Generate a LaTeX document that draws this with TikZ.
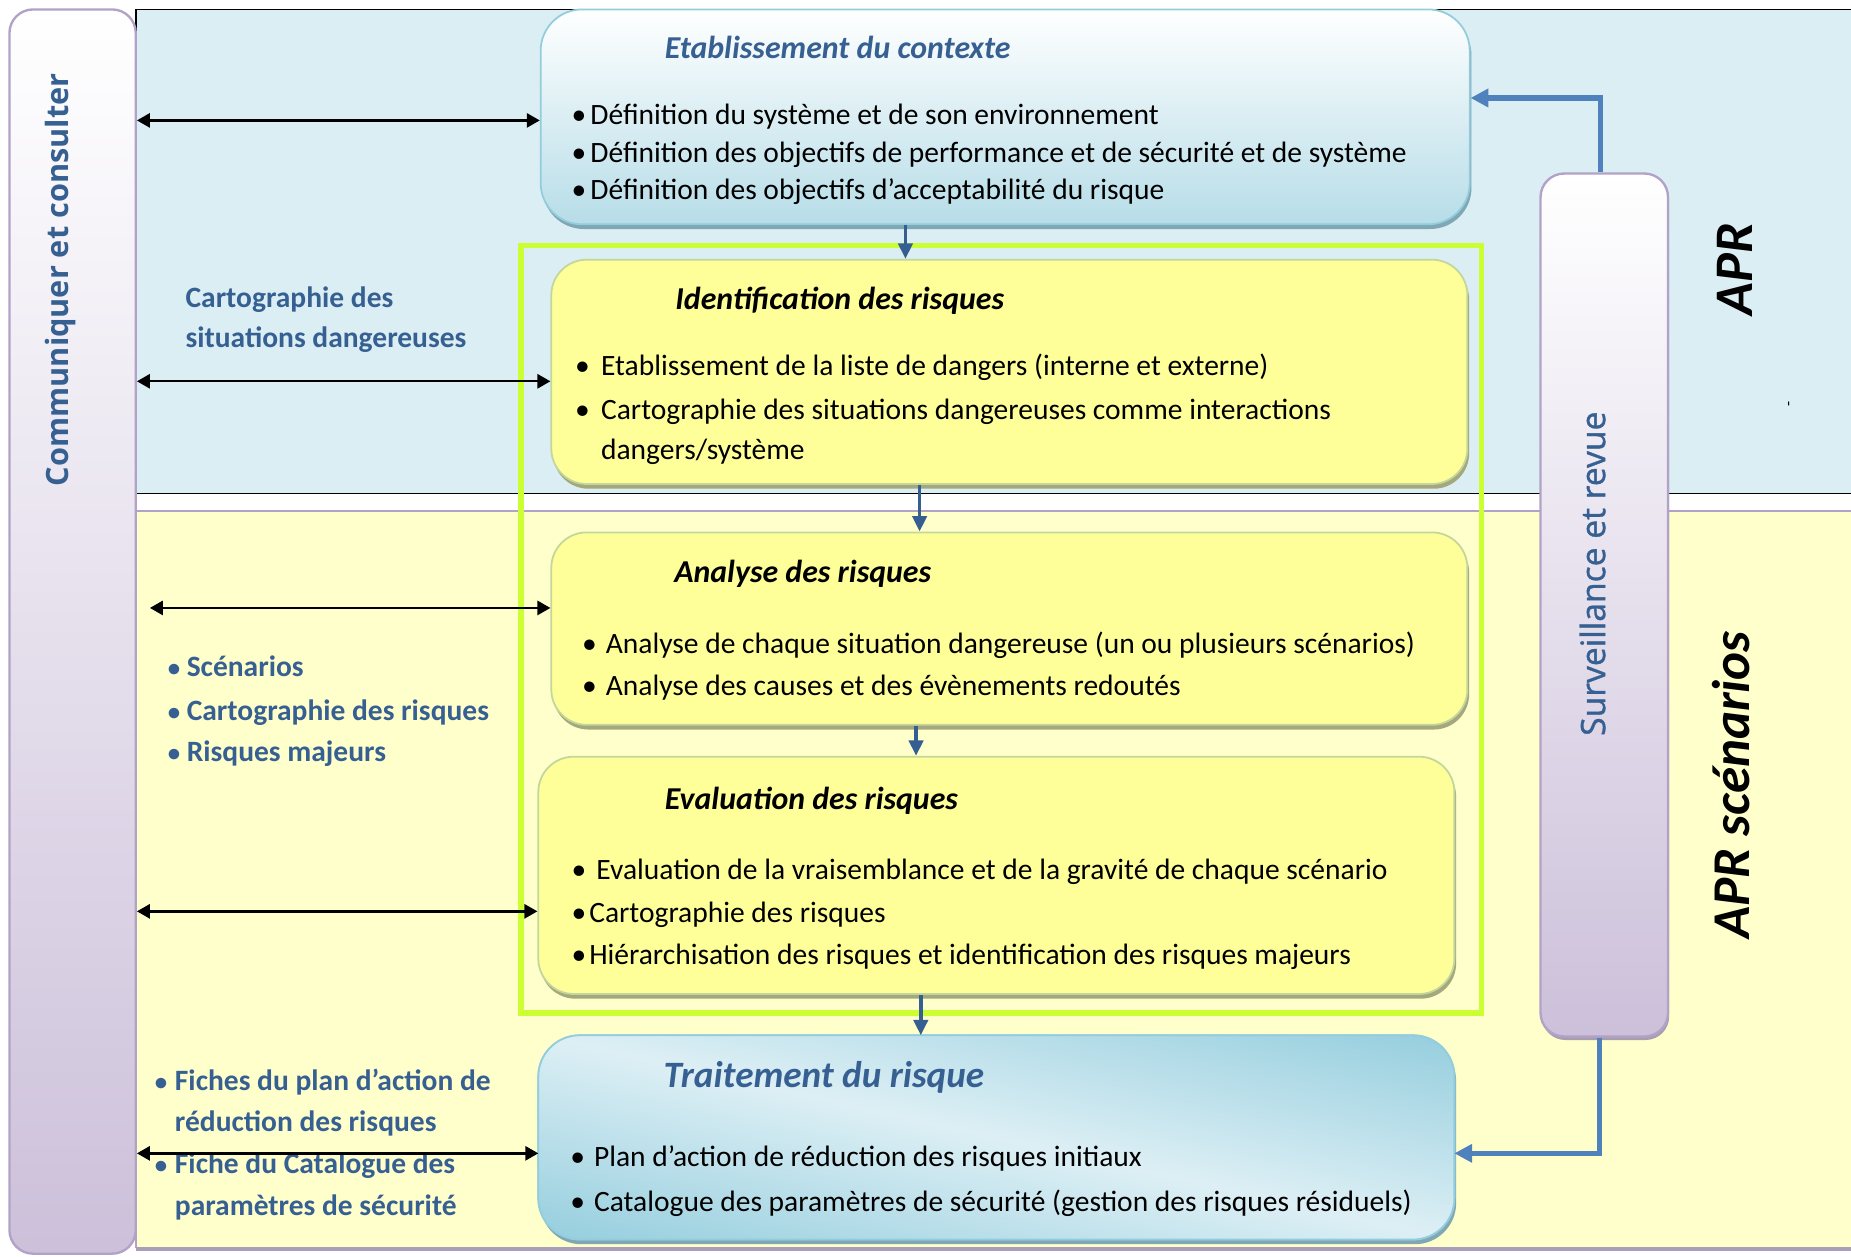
\documentclass[tikz,border=0pt]{standalone}
\usepackage{fontspec}
\setmainfont{Carlito}
\newfontfamily\sidefont{Open Sans}
\newfontfamily\sidesemi[FakeBold=1]{Open Sans}
\usetikzlibrary{shadows,arrows.meta}

\definecolor{bandblue}{HTML}{DBEEF4}
\definecolor{bandyellow}{HTML}{FFFFCC}
\definecolor{boxyellow}{HTML}{FFFF99}
\definecolor{yellowedge}{HTML}{C3D69B}
\definecolor{yellowshade}{HTML}{A4A87C}
\definecolor{ctxlow}{HTML}{B7DDE8}
\definecolor{ctxedge}{HTML}{93CDDD}
\definecolor{ctxshade}{HTML}{7FA7B4}
\definecolor{treatdark}{HTML}{93CDDD}
\definecolor{treatlight}{HTML}{DDEFF5}
\definecolor{lilac}{HTML}{CCC0DA}
\definecolor{lilacedge}{HTML}{B3A2C7}
\definecolor{lilacline}{HTML}{A99DBA}
\definecolor{lilacshade}{HTML}{A79FB0}
\definecolor{deepblue}{HTML}{376092}
\definecolor{feedblue}{HTML}{4F81BD}
\definecolor{limegreen}{HTML}{CCFF33}
\definecolor{stepblue}{HTML}{365F91}

\newcommand{\setfs}[1]{\fontsize{#1}{#1}\selectfont}

\tikzset{
  ctxbox/.style={draw=ctxedge, line width=1.5pt, rounded corners=35pt,
    top color=white, bottom color=ctxlow,
    drop shadow={shadow xshift=1.5pt, shadow yshift=-4pt, fill=ctxshade, opacity=1}},
  stagebox/.style={draw=yellowedge, line width=1.5pt, rounded corners=30pt, fill=boxyellow,
    drop shadow={shadow xshift=1.5pt, shadow yshift=-4pt, fill=yellowshade, opacity=1}},
  treatbox/.style={draw=ctxedge, line width=1.5pt, rounded corners=35pt, fill=treatdark, outer sep=0pt,
    drop shadow={shadow xshift=1.5pt, shadow yshift=-4pt, fill=ctxshade, opacity=1}},
  treatrim/.style={draw=ctxedge, line width=1.5pt, rounded corners=35pt},
  sidebar/.style={draw=lilacedge, line width=2pt, rounded corners=20pt,
    top color=white, bottom color=lilac},
  twoway/.style={line width=2pt, {Triangle[length=11pt,width=12pt]}-{Triangle[length=11pt,width=12pt]}},
  stepdown/.style={stepblue, line width=3pt, -{Triangle[length=13pt,width=12pt]}},
  feedback/.style={feedblue, line width=4.5pt, -{Triangle[length=15pt,width=15pt]}},
  bodyline/.style={anchor=mid west, inner sep=0pt, yshift=-6pt, font=\setfs{25}},
  headline/.style={anchor=mid west, inner sep=0pt, yshift=-6pt, font=\setfs{27}\bfseries\itshape},
  sidelabel/.style={anchor=mid west, inner sep=0pt, yshift=-5pt, text=deepblue, font=\setfs{25}\bfseries},
  sidedot/.style={anchor=mid west, inner sep=0pt, yshift=-5pt, text=deepblue, font=\setfs{21}\bfseries},
}

\begin{document}
\begin{tikzpicture}[x=1pt, y=-1pt]
\useasboundingbox (0,0) rectangle (1568,1064);

% the two phase bands
\fill[bandblue] (115,8) rectangle (1580,418);
\draw[black, line width=1.5pt] (1580,8) -- (115,8) -- (115,418) -- (1580,418);
\fill[bandyellow] (115,433) rectangle (1580,1057);
\draw[lilacedge, line width=1.5pt] (1580,433) -- (115,433) -- (115,1057);
\draw[lilacline, line width=4pt] (115,1058) -- (1580,1058);

% side bars
\node[sidebar, minimum width=107pt, minimum height=1054pt] (lb) at (61.5,535) {};
\node[sidebar, minimum width=108pt, minimum height=731pt,
  drop shadow={shadow xshift=1pt, shadow yshift=-3pt, fill=lilacshade, opacity=1}] (rb) at (1359,512.5) {};
\node[rotate=90, text=deepblue, font=\sidefont\bfseries\setfs{26}] (lbT) at (51,237) {Communiquer et consulter};
\node[rotate=90, text=deepblue, font=\sidesemi\setfs{28.5}] (rbT) at (1349,486) {Surveillance et revue};

% process boxes
\node[ctxbox, minimum width=787pt, minimum height=182pt] (ctx) at (851.5,99) {};
\draw[limegreen, line width=5pt] (441,208) rectangle (1255,858);
\node[stagebox, minimum width=776pt, minimum height=190pt] (ident) at (855,315) {};
\node[stagebox, minimum width=776pt, minimum height=163pt] (ana) at (855,532.5) {};
\node[stagebox, minimum width=776pt, minimum height=201pt] (eval) at (844,741.5) {};
\node[treatbox, minimum width=776pt, minimum height=173pt] (treat) at (844,963.5) {};
% diagonal sheen of the treatment box: light along one diagonal, darker in the other corners
\begin{scope}
  \clip[rounded corners=35pt] (treat.south west) rectangle (treat.north east);
  \begin{scope}[transform canvas={rotate around={-12.6:(treat.center)}}]
    \shade[top color=treatdark, bottom color=treatdark, middle color=treatlight]
      (344,790) rectangle (1344,1137);
  \end{scope}
\end{scope}
\draw[treatrim] (treat.south west) rectangle (treat.north east);

% Etablissement du contexte
\node[headline, text=deepblue] (ctxT) at (563,41) {Etablissement du contexte};
\node[bodyline] (c1b) at (484,97) {•};
\node[bodyline] (c1) at (500,97) {Définition du système et de son environnement};
\node[bodyline] (c2b) at (484,129) {•};
\node[bodyline] (c2) at (500,129) {Définition des objectifs de performance et de sécurité et de système};
\node[bodyline] (c3b) at (484,161) {•};
\node[bodyline] (c3) at (500,161) {Définition des objectifs d’acceptabilité du risque};

% Identification des risques
\node[headline] (identT) at (572,254) {Identification des risques};
\node[bodyline] (i1b) at (487,310) {•};
\node[bodyline] (i1) at (509,310) {Etablissement de la liste de dangers (interne et externe)};
\node[bodyline] (i2b) at (487,347) {•};
\node[bodyline] (i2) at (509,347) {Cartographie des situations dangereuses comme interactions};
\node[bodyline] (i3) at (509,381) {dangers/système};

% Analyse des risques
\node[headline] (anaT) at (571,485) {Analyse des risques};
\node[bodyline] (a1b) at (493,545) {•};
\node[bodyline] (a1) at (513,545) {Analyse de chaque situation dangereuse (un ou plusieurs scénarios)};
\node[bodyline] (a2b) at (493,581) {•};
\node[bodyline] (a2) at (513,581) {Analyse des causes et des évènements redoutés};

% Evaluation des risques
\node[headline] (evalT) at (563,677) {Evaluation des risques};
\node[bodyline] (e1b) at (484,737) {•};
\node[bodyline] (e1) at (505,737) {Evaluation de la vraisemblance et de la gravité de chaque scénario};
\node[bodyline] (e2b) at (484,773) {•};
\node[bodyline] (e2) at (499,773) {Cartographie des risques};
\node[bodyline] (e3b) at (484,809) {•};
\node[bodyline] (e3) at (499,809) {Hiérarchisation des risques et identification des risques majeurs};

% Traitement du risque
\node[headline, text=deepblue, font=\setfs{31.5}\bfseries\itshape] (treatT) at (562,913) {Traitement du risque};
\node[bodyline] (t1b) at (483,980) {•};
\node[bodyline] (t1) at (503,980) {Plan d’action de réduction des risques initiaux};
\node[bodyline] (t2b) at (483,1018) {•};
\node[bodyline] (t2) at (503,1018) {Catalogue des paramètres de sécurité (gestion des risques résiduels)};

% outputs exchanged with the stakeholders
\node[sidelabel] (m1) at (157,253) {Cartographie des};
\node[sidelabel] (m2) at (157,287) {situations dangereuses};
\node[sidedot] (s1b) at (142,566) {•};
\node[sidelabel] (s1) at (158,566) {Scénarios};
\node[sidedot] (s2b) at (142,603) {•};
\node[sidelabel] (s2) at (158,603) {Cartographie des risques};
\node[sidedot] (s3b) at (142,638) {•};
\node[sidelabel] (s3) at (158,638) {Risques majeurs};
\node[sidedot] (f1b) at (131,916) {•};
\node[sidelabel] (f1) at (148,916) {Fiches du plan d’action de};
\node[sidelabel] (f2) at (148,951) {réduction des risques};
\node[sidedot] (f3b) at (131,987) {•};
\node[sidelabel] (f3) at (148,987) {Fiche du Catalogue des};
\node[sidelabel] (f4) at (148,1022) {paramètres de sécurité};

% phase names
\node[rotate=90, font=\setfs{46}\bfseries\itshape] (apr) at (1470,228) {APR};
\node[rotate=90, font=\setfs{45}\bfseries\itshape] (aprs) at (1466,665) {APR scénarios};
\node[rotate=90, font=\setfs{14}] (tick) at (1517,342) {-};

% exchanges with the stakeholders
\draw[twoway] (lb.east |- 0,102) -- (ctx.west |- 0,102);
\draw[twoway] (lb.east |- 0,323) -- (ident.west |- 0,323);
\draw[twoway] (127,515) -- (ana.west |- 0,515);
\draw[twoway] (lb.east |- 0,772) -- (eval.west |- 0,772);
\draw[twoway] (lb.east |- 0,977) -- (treat.west |- 0,977);

% process flow
\draw[stepdown] (ctx.south -| 767,0) -- (ident.north -| 767,0);
\draw[stepdown] (ident.south -| 779,0) -- (ana.north -| 779,0);
\draw[stepdown] (ana.south -| 776,0) -- (eval.north -| 776,0);
\draw[stepdown] (eval.south -| 780,0) -- (treat.north -| 780,0);

% monitoring feedback
\draw[feedback] (rb.north -| 1356,0) |- (ctx.east |- 0,83);
\draw[feedback] (rb.south -| 1355,0) |- (treat.east |- 0,977);
\end{tikzpicture}
\end{document}
